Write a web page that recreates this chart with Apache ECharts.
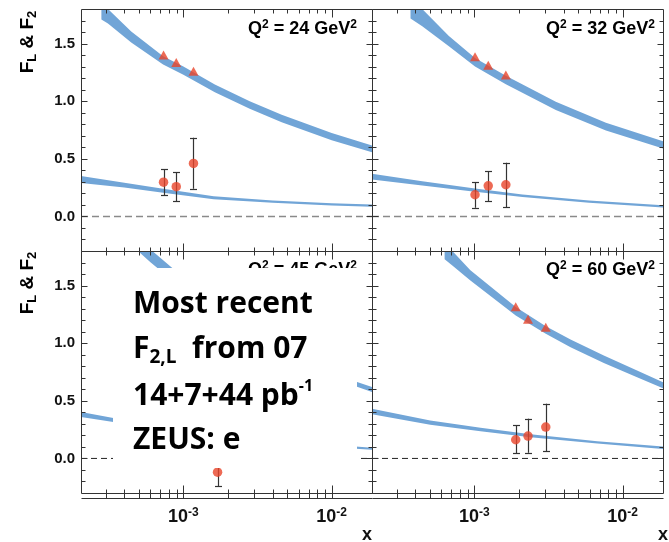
<!DOCTYPE html>
<html>
<head>
<meta charset="utf-8">
<script src="https://cdn.jsdelivr.net/npm/echarts@6/dist/echarts.min.js"></script>
<style>
  html, body { margin: 0; padding: 0; background: #fff; }
  #chart { width: 669px; height: 542px; }
</style>
</head>
<body>
<div id="chart"></div>
<script>
// shared axis ranges
const xMin = 2.04e-4, xMax = 1.87e-2;
const yMin = -0.3, yMax = 1.8;

const xMajorTicks = [1e-3, 1e-2];
const xMinorTicks = [3e-4, 4e-4, 5e-4, 6e-4, 7e-4, 8e-4, 9e-4, 2e-3, 3e-3, 4e-3, 5e-3, 6e-3, 7e-3, 8e-3, 9e-3];
const yMajorTicks = [0, 0.5, 1.0, 1.5];
const yMinorTicks = [-0.2, -0.1, 0.1, 0.2, 0.3, 0.4, 0.6, 0.7, 0.8, 0.9, 1.1, 1.2, 1.3, 1.4, 1.6, 1.7];

const q2Labels = ['24', '32', '45', '60'];

// Q2 = 24 GeV2
const f2X24 = [2.8e-4, 3.1e-4, 4.45e-4, 7.3e-4, 1.0e-3, 1.63e-3, 2.8e-3, 4.6e-3, 1.0e-2, 1.87e-2];
const f2Hi24 = [1.85, 1.80, 1.604, 1.39, 1.30, 1.145, 1.0, 0.882, 0.723, 0.616];
const f2Lo24 = [1.709, 1.675, 1.509, 1.318, 1.23, 1.077, 0.934, 0.818, 0.661, 0.558];
const flX24 = [2.04e-4, 4.0e-4, 7.3e-4, 1.6e-3, 4.0e-3, 1.0e-2, 1.87e-2];
const flHi24 = [0.35, 0.292, 0.240, 0.176, 0.139, 0.115, 0.104];
const flLo24 = [0.29, 0.251, 0.205, 0.150, 0.119, 0.095, 0.084];
const ptX24 = [7.35e-4, 8.95e-4, 1.17e-3];
const f2Pt24 = [1.40, 1.335, 1.26];
const flPt24 = [0.297, 0.258, 0.460];
const flErrLo24 = [0.182, 0.133, 0.240];
const flErrHi24 = [0.408, 0.384, 0.683];

// Q2 = 32 GeV2
const f2X32 = [3.71e-4, 4.45e-4, 6.73e-4, 1.01e-3, 1.63e-3, 3.54e-3, 7.71e-3, 1.87e-2];
const f2Hi32 = [1.88, 1.80, 1.566, 1.375, 1.22, 0.995, 0.813, 0.653];
const f2Lo32 = [1.717, 1.65, 1.476, 1.302, 1.148, 0.923, 0.746, 0.590];
const flX32 = [2.04e-4, 4.45e-4, 1.01e-3, 2.11e-3, 5.94e-3, 1.87e-2];
const flHi32 = [0.370, 0.306, 0.243, 0.191, 0.139, 0.098];
const flLo32 = [0.321, 0.269, 0.214, 0.168, 0.119, 0.078];
const ptX32 = [1.01e-3, 1.24e-3, 1.63e-3];
const f2Pt32 = [1.385, 1.312, 1.228];
const flPt32 = [0.188, 0.266, 0.275];
const flErrLo32 = [0.075, 0.133, 0.082];
const flErrHi32 = [0.299, 0.393, 0.466];

// Q2 = 45 GeV2 (mostly behind the text box)
const f2X45 = [4.05e-4, 5.97e-4, 8.81e-4, 2.0e-3, 5.0e-3, 1.45e-2, 1.87e-2];
const f2Hi45 = [2.02, 1.816, 1.63, 1.16, 0.90, 0.668, 0.62];
const f2Lo45 = [1.90, 1.705, 1.525, 1.09, 0.84, 0.626, 0.577];
const flX45 = [2.04e-4, 3.37e-4, 1.0e-3, 4.0e-3, 1.45e-2, 1.87e-2];
const flHi45 = [0.403, 0.350, 0.26, 0.16, 0.104, 0.093];
const flLo45 = [0.359, 0.316, 0.23, 0.14, 0.084, 0.076];
const ptX45 = [1.70e-3];
const f2Pt45 = [];
const flPt45 = [-0.119];
const flErrLo45 = [-0.243];
const flErrHi45 = [0.005];

// Q2 = 60 GeV2
const f2X60 = [6.3e-4, 7.1e-4, 9.4e-4, 1.90e-3, 3.03e-3, 4.45e-3, 7.46e-3, 1.25e-2, 1.87e-2];
const f2Hi60 = [1.86, 1.80, 1.632, 1.313, 1.148, 1.032, 0.893, 0.762, 0.661];
const f2Lo60 = [1.728, 1.675, 1.545, 1.241, 1.081, 0.965, 0.829, 0.704, 0.609];
const flX60 = [2.04e-4, 5.04e-4, 1.10e-3, 2.39e-3, 6.73e-3, 1.87e-2];
const flHi60 = [0.432, 0.330, 0.267, 0.209, 0.150, 0.104];
const flLo60 = [0.383, 0.293, 0.235, 0.183, 0.130, 0.081];
const ptX60 = [1.90e-3, 2.30e-3, 3.03e-3];
const f2Pt60 = [1.316, 1.208, 1.138];
const flPt60 = [0.162, 0.194, 0.272];
const flErrLo60 = [0.046, 0.049, 0.064];
const flErrHi60 = [0.287, 0.345, 0.475];

const BAND = '#71a5d7';
const RED = '#e9452b';
const INK = '#333';
const AXIS_FONT = 'Liberation Sans, Arial, sans-serif';

const panels = [
  { f2X: f2X24, f2Hi: f2Hi24, f2Lo: f2Lo24, flX: flX24, flHi: flHi24, flLo: flLo24,
    ptX: ptX24, f2Pt: f2Pt24, flPt: flPt24, errLo: flErrLo24, errHi: flErrHi24 },
  { f2X: f2X32, f2Hi: f2Hi32, f2Lo: f2Lo32, flX: flX32, flHi: flHi32, flLo: flLo32,
    ptX: ptX32, f2Pt: f2Pt32, flPt: flPt32, errLo: flErrLo32, errHi: flErrHi32 },
  { f2X: f2X45, f2Hi: f2Hi45, f2Lo: f2Lo45, flX: flX45, flHi: flHi45, flLo: flLo45,
    ptX: ptX45, f2Pt: f2Pt45, flPt: flPt45, errLo: flErrLo45, errHi: flErrHi45 },
  { f2X: f2X60, f2Hi: f2Hi60, f2Lo: f2Lo60, flX: flX60, flHi: flHi60, flLo: flLo60,
    ptX: ptX60, f2Pt: f2Pt60, flPt: flPt60, errLo: flErrLo60, errHi: flErrHi60 }
];

const gridPos = [
  { left: 81, top: 9 }, { left: 372, top: 9 },
  { left: 81, top: 251 }, { left: 372, top: 251 }
];

const crisp = v => Math.round(v) + 0.5;
const seg = (x1, y1, x2, y2, w) => ({
  type: 'line', shape: { x1, y1, x2, y2 }, style: { stroke: INK, lineWidth: w || 1 }
});

// uncertainty band drawn as one polygon
function band(gi, xs, lo, hi) {
  return {
    type: 'custom', xAxisIndex: gi, yAxisIndex: gi, z: 2, silent: true,
    data: xs.map((x, i) => [x, lo[i], hi[i]]),
    renderItem: (params, api) => {
      if (params.dataIndex !== 0) return null;
      const pts = [];
      xs.forEach((x, i) => pts.push(api.coord([x, hi[i]])));
      for (let i = xs.length - 1; i >= 0; i--) pts.push(api.coord([xs[i], lo[i]]));
      const cs = params.coordSys;
      return {
        type: 'polygon', shape: { points: pts }, style: { fill: BAND },
        clipPath: { type: 'rect', shape: { x: cs.x, y: cs.y, width: cs.width, height: cs.height } }
      };
    }
  };
}

function errorBars(gi, xs, lo, hi) {
  return {
    type: 'custom', xAxisIndex: gi, yAxisIndex: gi, z: 4, silent: true,
    data: xs.map((x, i) => [x, lo[i], hi[i]]),
    renderItem: (params, api) => {
      const a = api.coord([api.value(0), api.value(2)]);
      const b = api.coord([api.value(0), api.value(1)]);
      const x = crisp(a[0]);
      return {
        type: 'group',
        children: [
          seg(x, a[1], x, b[1], 1.2),
          seg(x - 3.5, crisp(a[1]), x + 3.5, crisp(a[1]), 1.2),
          seg(x - 3.5, crisp(b[1]), x + 3.5, crisp(b[1]), 1.2)
        ]
      };
    }
  };
}

// panel frame with inward ticks on all four sides
function frame(gi, bottomRow) {
  return {
    type: 'custom', xAxisIndex: gi, yAxisIndex: gi, z: 10, silent: true,
    data: [[xMin, yMin]],
    renderItem: (params, api) => {
      const cs = params.coordSys;
      const L = crisp(cs.x), R = crisp(cs.x + cs.width);
      const T = crisp(cs.y), B = crisp(cs.y + cs.height);
      const c = [seg(L, T, R, T), seg(L, B, R, B), seg(L, T, L, B), seg(R, T, R, B)];
      const base = bottomRow ? B + 5 : B;
      if (bottomRow) c.push(seg(L, base, R, base));
      const xt = (v, len, lenB) => {
        const x = crisp(api.coord([v, yMin])[0]);
        c.push(seg(x, T, x, T + len));
        c.push(seg(x, base, x, base - lenB));
      };
      xMinorTicks.forEach(v => xt(v, 4, bottomRow ? 9 : 4));
      xMajorTicks.forEach(v => xt(v, 8, bottomRow ? 13 : 8));
      const yt = (v, len) => {
        const y = crisp(api.coord([xMin, v])[1]);
        c.push(seg(L, y, L + len, y));
        c.push(seg(R, y, R - len, y));
      };
      yMinorTicks.forEach(v => yt(v, 4));
      yMajorTicks.forEach(v => yt(v, 6));
      return { type: 'group', children: c };
    }
  };
}

const series = [];
panels.forEach((p, gi) => {
  const bottomRow = gi >= 2;
  series.push(band(gi, p.f2X, p.f2Lo, p.f2Hi));
  series.push(band(gi, p.flX, p.flLo, p.flHi));
  series.push({
    type: 'line', xAxisIndex: gi, yAxisIndex: gi, z: 3, silent: true, symbol: 'none',
    data: [[xMin, 0], [xMax, 0]],
    lineStyle: bottomRow
      ? { color: '#222', width: 1, type: [6, 4] }
      : { color: '#8a8a8a', width: 1.5, type: [7, 4] }
  });
  series.push(errorBars(gi, p.ptX, p.errLo, p.errHi));
  series.push({
    type: 'scatter', xAxisIndex: gi, yAxisIndex: gi, z: 5, silent: true,
    symbol: 'circle', symbolSize: 9.5, itemStyle: { color: RED },
    data: p.ptX.map((x, i) => [x, p.flPt[i]])
  });
  series.push({
    type: 'scatter', xAxisIndex: gi, yAxisIndex: gi, z: 5, silent: true,
    symbol: 'triangle', symbolSize: [10, 9], itemStyle: { color: RED },
    data: p.f2Pt.map((v, i) => [p.ptX[i], v])
  });
  series.push(frame(gi, bottomRow));
});

const supRich = {
  m: { fontSize: 18, fontWeight: 'bold', fontFamily: AXIS_FONT, color: '#111', lineHeight: 21 },
  p: { fontSize: 12, fontWeight: 'bold', fontFamily: AXIS_FONT, color: '#111', lineHeight: 12, verticalAlign: 'top' }
};
const q2Pos = [[357, 29], [655, 29], [357, 270], [655, 270]];
const graphics = q2Labels.map((q, i) => ({
  type: 'text', x: q2Pos[i][0], y: q2Pos[i][1], z: 50,
  style: { text: '{m|Q}{p|2}{m| = ' + q + ' GeV}{p|2}', rich: supRich, align: 'right', verticalAlign: 'middle' }
}));

const nameRich = {
  m: { fontSize: 19, fontWeight: 'bold', fontFamily: AXIS_FONT, color: '#111', lineHeight: 22 },
  s: { fontSize: 13, fontWeight: 'bold', fontFamily: AXIS_FONT, color: '#111', lineHeight: 12, verticalAlign: 'bottom' }
};
[42, 283].forEach(y => graphics.push({
  type: 'text', x: 28, y: y, rotation: Math.PI / 2, z: 50,
  style: { text: '{m|F}{s|L}{m| & F}{s|2}', rich: nameRich, align: 'center', verticalAlign: 'middle' }
}));
[367, 663].forEach(x => graphics.push({
  type: 'text', x: x, y: 535, z: 50,
  style: { text: 'x', fontSize: 18, fontWeight: 'bold', fontFamily: AXIS_FONT, fill: '#111', align: 'center', verticalAlign: 'middle' }
}));

// white annotation box over the Q2 = 45 panel
graphics.push({
  type: 'rect', z: 100, shape: { x: 113, y: 268, width: 244, height: 200 }, style: { fill: '#fff' }
});
const BOX_FONT = '"Open Sans", "Noto Sans", sans-serif';
const boxRich = {
  m: { fontSize: 30, fontWeight: 'bold', fontFamily: BOX_FONT, color: '#000', lineHeight: 36 },
  sub: { fontSize: 19, fontWeight: 'bold', fontFamily: BOX_FONT, color: '#000', lineHeight: 10, verticalAlign: 'bottom' },
  sup: { fontSize: 16, fontWeight: 'bold', fontFamily: BOX_FONT, color: '#000', lineHeight: 24, verticalAlign: 'top' }
};
const boxLines = ['{m|Most recent}', '{m|F}{sub|2,L}{m|  from 07}', '{m|14+7+44 pb}{sup|-1}', '{m|ZEUS: e}'];
const boxLineY = [304, 349, 396, 440];
boxLines.forEach((t, i) => graphics.push({
  type: 'text', x: 133, y: boxLineY[i], z: 101,
  style: { text: t, rich: boxRich, align: 'left', verticalAlign: 'middle' }
}));

const chart = echarts.init(document.getElementById('chart'));
chart.setOption({
  animation: false,
  backgroundColor: '#fff',
  grid: gridPos.map(g => ({ left: g.left, top: g.top, width: 291, height: 242, show: false })),
  xAxis: gridPos.map((g, i) => ({
    type: 'log', logBase: 10, gridIndex: i, min: xMin, max: xMax,
    axisLine: { show: false }, axisTick: { show: false }, splitLine: { show: false },
    axisLabel: {
      show: i >= 2, margin: 14,
      formatter: v => {
        const e = Math.log10(v);
        return Math.abs(e - Math.round(e)) < 1e-6 ? '{b|10}{s|' + Math.round(e) + '}' : '';
      },
      rich: {
        b: { fontSize: 18, fontWeight: 'bold', fontFamily: AXIS_FONT, color: '#111', lineHeight: 21 },
        s: { fontSize: 12, fontWeight: 'bold', fontFamily: AXIS_FONT, color: '#111', lineHeight: 12, verticalAlign: 'top' }
      }
    }
  })),
  yAxis: gridPos.map((g, i) => ({
    type: 'value', gridIndex: i, min: yMin, max: yMax, interval: 0.1,
    axisLine: { show: false }, axisTick: { show: false }, splitLine: { show: false },
    axisLabel: {
      show: i % 2 === 0, margin: 6,
      fontSize: 15, fontWeight: 'bold', fontFamily: AXIS_FONT, color: '#111',
      formatter: v => (v >= 0 && Math.abs(v * 2 - Math.round(v * 2)) < 1e-6 ? v.toFixed(1) : '')
    }
  })),
  series: series,
  graphic: graphics
});
</script>
</body>
</html>
